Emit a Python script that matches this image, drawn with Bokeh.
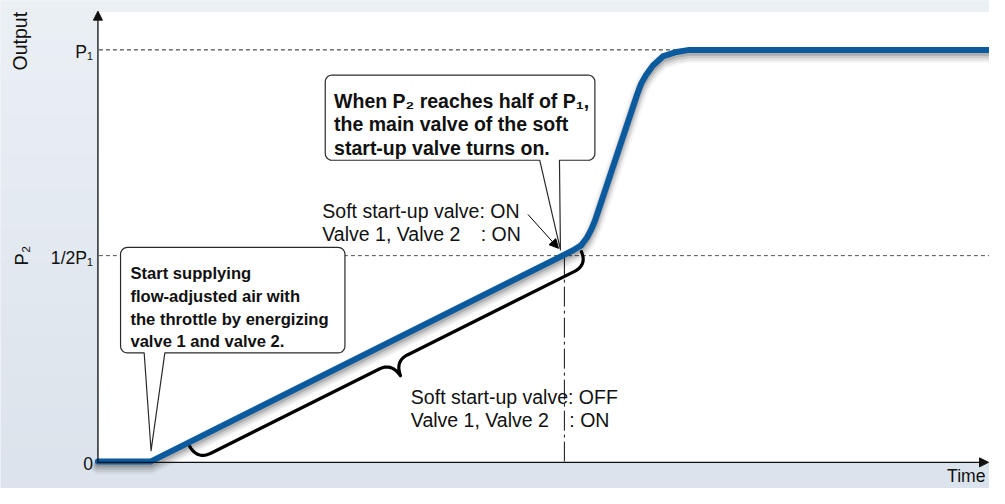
import numpy as np
from bokeh.plotting import figure
from bokeh.models import Range1d, Arrow, NormalHead
from bokeh.embed import file_html
from bokeh.resources import INLINE
from bokeh.core.properties import value

# ---------------- data ----------------
curve_time = [0, 54, 473, 483, 491, 497, 501, 505, 548, 552, 557, 564, 574, 588, 601, 911]
curve_output = [0, 0, 0.501, 0.513, 0.525, 0.544, 0.562, 0.584, 0.892, 0.918, 0.939,
                0.962, 0.984, 0.995, 1.0, 1.0]
tick_values = [0, 0.5, 1.0]
tick_labels = ["0", "1/2P\u2081", "P\u2081"]
ref_levels = [0.5, 1.0]
switch_time = 474

callout_top_lines = ["When P\u2082 reaches half of P\u2081,",
                     "the main valve of the soft",
                     "start-up valve turns on."]
callout_left_lines = ["Start supplying",
                      "flow-adjusted air with",
                      "the throttle by energizing",
                      "valve 1 and valve 2."]
state_on = ["Soft start-up valve: ON", "Valve 1, Valve 2", ": ON"]
state_off = ["Soft start-up valve: OFF", "Valve 1, Valve 2", ": ON"]

FONT = value("Liberation Sans")
BLUE = "#0c5a9e"

# ---------------- scale helpers (reference pixel <-> data) ----------------
PX_T0, PY_O0, PX_PER_OUT = 99.0, 476.0, 425.0


def X(px):
    return px - PX_T0


def Y(py):
    return (PY_O0 - py) / PX_PER_OUT


def to_px(t, o):
    return t + PX_T0, PY_O0 - o * PX_PER_OUT


W, H = 989, 488
FS = 0.976  # canvas / reference size ratio


def fs(v):
    return "%.1fpx" % (v * FS)


x_lo, x_hi = X(0), X(1005)
y_hi, y_lo = Y(0), Y(504)

p = figure(width=W, height=H, x_range=Range1d(x_lo, x_hi), y_range=Range1d(y_lo, y_hi),
           output_backend="svg", toolbar_location=None,
           x_axis_location=None, y_axis_location=None, min_border=0)
p.min_border_left = p.min_border_right = p.min_border_top = p.min_border_bottom = 0
p.grid.visible = False
p.outline_line_color = None
p.border_fill_color = "#e6ecf2"
p.background_fill_color = "#e6ecf2"

# ---------------- background gradient ----------------
N = 60
edges = np.linspace(y_hi, y_lo, N + 1)
c_top = np.array([235, 240, 245])
c_bot = np.array([219, 227, 236])
cols = []
for i in range(N):
    f = i / (N - 1)
    c = (c_top * (1 - f) + c_bot * f).astype(int)
    cols.append("#%02x%02x%02x" % tuple(c))
p.quad(left=[x_lo] * N, right=[x_hi] * N, top=list(edges[:-1]), bottom=list(edges[1:]),
       fill_color=cols, line_color=None)

# white plotting panel
p.quad(left=[X(100)], right=[x_hi + 20], top=[Y(12)], bottom=[Y(477)],
       fill_color="white", line_color=None)

# reference dashed levels
for lv, col in zip(ref_levels, ["#555555", "#222222"]):
    p.line([X(100), x_hi + 20], [lv, lv], line_color=col, line_width=1, line_dash="4 3")

# vertical dash-dot line at switching time
p.line([switch_time, switch_time], [0.5, 0], line_color="#111111", line_width=1,
       line_dash="20 4 3 4")

# axes with arrows
p.add_layout(Arrow(end=NormalHead(size=9, fill_color="#111111", line_color="#111111"),
                   x_start=0, y_start=Y(477.5), x_end=0, y_end=Y(11),
                   line_color="#111111", line_width=1.3))
p.add_layout(Arrow(end=NormalHead(size=9, fill_color="#111111", line_color="#111111"),
                   x_start=X(99), y_start=Y(477), x_end=X(1004), y_end=Y(477),
                   line_color="#111111", line_width=1.3))

# ---------------- curly brace along the ramp ----------------
A = np.array(to_px(curve_time[1], curve_output[1]))
B = np.array(to_px(curve_time[2], curve_output[2]))
u = (B - A) / np.linalg.norm(B - A)
nrm = np.array([-u[1], u[0]])
if nrm[1] < 0:
    nrm = -nrm


def bz(P0, C, P1, n=14):
    t = np.linspace(0, 1, n)[:, None]
    P0, C, P1 = map(np.array, (P0, C, P1))
    return (1 - t) ** 2 * P0 + 2 * (1 - t) * t * C + t ** 2 * P1


sh = np.vstack([
    bz((42, 4), (43, 20), (58, 20)),
    [(250, 20)],
    bz((250, 20), (264, 20), (266, 36)),
    bz((266, 36), (268, 20), (282, 20)),
    [(472, 20)],
    bz((472, 20), (487, 20), (488, 5)),
])
br_px = A[None, :] + sh[:, :1] * u[None, :] + sh[:, 1:] * nrm[None, :]
p.line([X(v) for v in br_px[:, 0]], [Y(v) for v in br_px[:, 1]],
       line_color="black", line_width=3.2, line_join="round", line_cap="round")

# ---------------- curve with soft shadow ----------------
for off, w, a in [(5, 16, 0.04), (5, 12, 0.07), (4, 9, 0.10), (3, 6, 0.14)]:
    p.line(curve_time, [o - off / PX_PER_OUT for o in curve_output], line_color="black",
           line_alpha=a, line_width=w, line_join="round", line_cap="round")
p.line(curve_time, curve_output, line_color=BLUE, line_width=6, line_join="round",
       line_cap="round")


# ---------------- callouts ----------------
def callout(x0, y0, x1, y1, r, pl, pr, tip):
    pts = []

    def arc(cx, cy, a0, a1):
        for a in np.linspace(np.radians(a0), np.radians(a1), 8):
            pts.append((cx + r * np.cos(a), cy + r * np.sin(a)))

    arc(x1 - r, y0 + r, -90, 0)
    arc(x1 - r, y1 - r, 0, 90)
    pts.extend([(pr, y1), tip, (pl, y1)])
    arc(x0 + r, y1 - r, 90, 180)
    arc(x0 + r, y0 + r, 180, 270)
    p.patch([X(a) for a, b in pts], [Y(b) for a, b in pts], fill_color="white",
            line_color="#2a2a2a", line_width=1.2, line_join="round")


callout(330, 77, 604, 165, 7, 548, 568, to_px(switch_time - 4, curve_output[2] + 0.013))
callout(122, 255, 350, 364, 7, 146, 167, to_px(curve_time[1], 0.026))

p.text(x=[X(339)] * 3, y=[Y(104), Y(128), Y(152)], text=callout_top_lines,
       text_font=FONT, text_font_style="bold", text_font_size=fs(20),
       text_color="#111111", text_baseline="alphabetic", text_align="left")
p.text(x=[X(132)] * 4, y=[Y(282), Y(305.5), Y(329), Y(352)], text=callout_left_lines,
       text_font=FONT, text_font_style="bold", text_font_size=fs(17),
       text_color="#111111", text_baseline="alphabetic", text_align="left")

# state annotations
colon_dx = 161
for lines, lx, by in [(state_on, 327, 217), (state_off, 417, 409)]:
    p.text(x=[X(lx), X(lx), X(lx + colon_dx)], y=[Y(by), Y(by + 24), Y(by + 24)],
           text=lines, text_font=FONT, text_font_size=fs(20), text_color="#111111",
           text_baseline="alphabetic", text_align="left")

p.add_layout(Arrow(end=NormalHead(size=9, fill_color="black", line_color="black"),
                   x_start=X(536), y_start=Y(221), x_end=X(567), y_end=Y(256),
                   line_color="black", line_width=1))

# ---------------- tick labels & axis titles ----------------
p.text(x=[X(94)] * 3, y=tick_values, text=tick_labels, text_font=FONT,
       text_font_size=fs(18), text_color="#111111", text_align="right",
       text_baseline="middle", y_offset=2)
p.text(x=[X(20)], y=[Y(42)], text=["Output"], angle=np.pi / 2, text_font=FONT,
       text_font_size=fs(20), text_color="#111111", text_align="center",
       text_baseline="middle")
p.text(x=[X(21)], y=[0.5], text=["P\u2082"], angle=np.pi / 2, text_font=FONT,
       text_font_size=fs(19), text_color="#111111", text_align="center",
       text_baseline="middle")
p.text(x=[X(1001)], y=[Y(491)], text=["Time"], text_font=FONT, text_font_size=fs(18),
       text_color="#111111", text_align="right", text_baseline="alphabetic")

open("out.html", "w").write(file_html(p, INLINE))
